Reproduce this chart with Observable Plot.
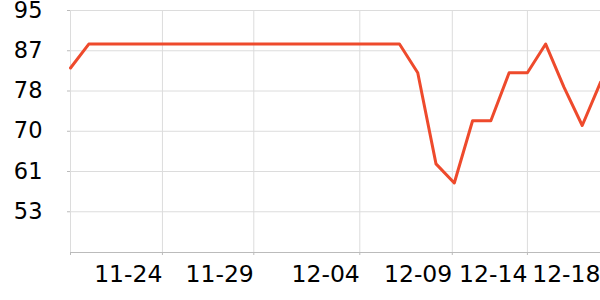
<!DOCTYPE html>
<html><head><meta charset="utf-8">
<script src="https://cdn.jsdelivr.net/npm/d3@7"></script>
<script src="https://cdn.jsdelivr.net/npm/@observablehq/plot@0.6"></script>
<style>body{margin:0;background:#fff} svg{display:block}</style>
</head><body><div id="chart"></div>
<script>
// series values (one per category, in order)
const values = [83, 88, 88, 88, 88, 88, 88, 88, 88, 88, 88, 88, 88, 88, 88, 88, 88, 88, 88,
                82, 63, 59, 72, 72, 82, 82, 88, 79, 71, 80];
// x tick positions (category index) and labels
const xTicks = [0, 5.03, 10.03, 15.83, 20.89, 25, 29];
const xTickLabels = ["", "11-24", "11-29", "12-04", "12-09", "12-14", "12-18"];
// y ticks and their labels
const yTicks = [95, 86.6, 78.2, 69.8, 61.4, 53];
const yTickLabels = ["95", "87", "78", "70", "61", "53"];

const data = values.map((v, i) => ({i, v}));
const xLab = new Map(xTicks.map((t, k) => [t, xTickLabels[k]]));
const yLab = new Map(yTicks.map((t, k) => [t, yTickLabels[k]]));

const chart = Plot.plot({
  width: 600, height: 300,
  marginLeft: 70, marginRight: 0, marginTop: 10, marginBottom: 48,
  style: {fontFamily: "DejaVu Sans", fontSize: "22px", background: "#fff", color: "#000", overflow: "visible"},
  x: {domain: [0, values.length - 1]},
  y: {domain: [44.5, 95]},
  marks: [
    Plot.gridY(yTicks, {stroke: "#dcdcdc", strokeOpacity: 1, strokeWidth: 1}),
    Plot.gridX(xTicks, {stroke: "#dcdcdc", strokeOpacity: 1, strokeWidth: 1}),
    Plot.ruleY([44.5], {stroke: "#bbbbbb", strokeWidth: 1}),
    Plot.axisY({ticks: yTicks, tickFormat: d => yLab.get(d), tickSize: 3, tickPadding: 25,
      fontSize: 22.5, stroke: "#bbbbbb", fill: "#000", label: null}),
    Plot.axisX({ticks: xTicks, tickFormat: d => xLab.get(d), tickSize: 3, tickPadding: 10,
      textAnchor: "end", fontSize: 23.5, stroke: "#bbbbbb", fill: "#000", label: null}),
    Plot.lineY(data, {x: "i", y: "v", stroke: "#ee4a2c", strokeWidth: 3})
  ]
});
document.getElementById("chart").appendChild(chart);
</script>
</body></html>
